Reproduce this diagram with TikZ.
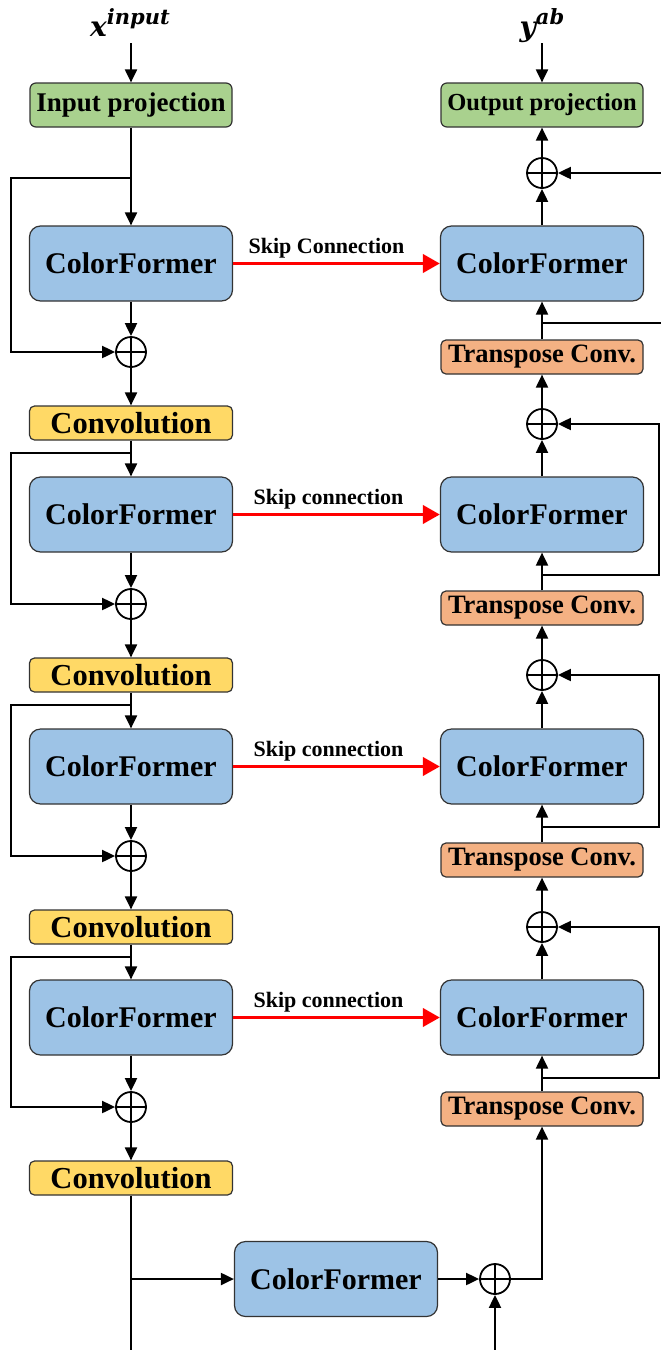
\documentclass[tikz,border=0pt]{standalone}
\usepackage{fontspec}
\setmainfont{Liberation Serif}
\newfontfamily\mathlikefont{DejaVu Serif}
\usetikzlibrary{arrows.meta,calc}
\definecolor{cgreen}{HTML}{A9D18E}
\definecolor{cblue}{HTML}{9DC3E6}
\definecolor{cyellow}{HTML}{FFD966}
\definecolor{corange}{HTML}{F4B183}
\definecolor{cborder}{HTML}{333333}
\definecolor{cred}{HTML}{FF0000}
\tikzset{
  basebox/.style={draw=cborder, line width=1.2pt, rounded corners=6pt, inner sep=0pt, font=\bfseries},
  projbox/.style={basebox, fill=cgreen, minimum width=202pt, minimum height=44pt},
  cfbox/.style={basebox, fill=cblue, rounded corners=11pt, minimum width=203pt, minimum height=75pt},
  convbox/.style={basebox, fill=cyellow, rounded corners=5pt, minimum width=203pt, minimum height=34pt},
  tcbox/.style={basebox, fill=corange, rounded corners=5pt, minimum width=202pt, minimum height=34pt},
  oplusnode/.style={circle, draw=black, line width=1.8pt, minimum size=30pt, inner sep=0pt,
    path picture={\draw[line width=1.8pt] (path picture bounding box.north) -- (path picture bounding box.south)
      (path picture bounding box.west) -- (path picture bounding box.east);}},
  arr/.style={line width=2pt, -{Triangle[length=13pt,width=12pt]}},
  plainline/.style={line width=2pt},
  skiparr/.style={draw=cred, line width=3.8pt, -{Triangle[length=17pt,width=18pt]}},
  skiplabel/.style={font=\bfseries\fontsize{22}{23}\selectfont, text=black, inner sep=2pt},
  mathlabel/.style={font=\mathlikefont\bfseries\itshape, inner sep=0pt, anchor=base},
  cftext/.style={font=\bfseries\fontsize{30}{31}\selectfont},
}
\begin{document}
\begin{tikzpicture}[x=1pt,y=-1pt]
\useasboundingbox (0,0) rectangle (661,1350);
\node[mathlabel] (xin) at (130,36) {\fontsize{28}{28}\selectfont x\raisebox{12pt}{\fontsize{21}{21}\selectfont input}};
\node[mathlabel] (yab) at (542,36) {\fontsize{28}{28}\selectfont y\raisebox{12pt}{\fontsize{21}{21}\selectfont ab}};
\coordinate (xa) at (131,43);
\coordinate (ya) at (542,43);
\node[projbox, font=\bfseries\fontsize{27}{28}\selectfont] (inproj) at (131,105) {Input projection};
\node[projbox, font=\bfseries\fontsize{24.5}{25}\selectfont] (outproj) at (542,105) {Output projection};
\draw[arr] (xa) -- (inproj.north);
\draw[arr] (ya) -- (outproj.north);
\foreach \k/\cy/\oy/\vy in {1/263.5/352/423, 2/514.5/604/675, 3/766.5/856/927, 4/1017.5/1107/1178}{
  \node[cfbox, cftext] (cfL\k) at (131,\cy) {ColorFormer};
  \node[oplusnode] (opL\k) at (131,\oy) {};
  \node[convbox, font=\bfseries\fontsize{30.5}{31}\selectfont] (convL\k) at (131,\vy) {Convolution};
}
\foreach \k/\cy/\oy/\ty in {1/263.5/173/357, 2/514.5/424/608, 3/766.5/675/860, 4/1017.5/927/1109}{
  \node[cfbox, cftext] (cfR\k) at (542,\cy) {ColorFormer};
  \node[oplusnode] (opR\k) at (542,\oy) {};
  \node[tcbox, font=\bfseries\fontsize{26.5}{27}\selectfont] (tcR\k) at (542,\ty) {Transpose Conv.};
}
\node[cfbox, cftext] (cfB) at (336,1279) {ColorFormer};
\node[oplusnode] (opB) at (495,1279) {};
\coordinate (bL1) at (131,178);
\coordinate (bL2) at (131,453);
\coordinate (bL3) at (131,705);
\coordinate (bL4) at (131,957);
\draw[arr] (inproj.south) -- (cfL1.north);
\draw[arr] (convL1.south) -- (cfL2.north);
\draw[arr] (convL2.south) -- (cfL3.north);
\draw[arr] (convL3.south) -- (cfL4.north);
\foreach \k in {1,2,3,4}{
  \draw[arr] (cfL\k.south) -- (opL\k.north);
  \draw[arr] (opL\k.south) -- (convL\k.north);
  \draw[arr] (bL\k) -- ($(bL\k)+(-120,0)$) |- (opL\k.west);
}
\draw[skiparr] (cfL1.east) -- node[skiplabel, above, xshift=-10pt, yshift=1pt] {Skip Connection} (cfR1.west);
\draw[skiparr] (cfL2.east) -- node[skiplabel, above, xshift=-8pt, yshift=1pt] {Skip connection} (cfR2.west);
\draw[skiparr] (cfL3.east) -- node[skiplabel, above, xshift=-8pt, yshift=1pt] {Skip connection} (cfR3.west);
\draw[skiparr] (cfL4.east) -- node[skiplabel, above, xshift=-8pt, yshift=1pt] {Skip connection} (cfR4.west);
\draw[arr] (opR1.north) -- (outproj.south);
\draw[arr] (opR2.north) -- (tcR1.south);
\draw[arr] (opR3.north) -- (tcR2.south);
\draw[arr] (opR4.north) -- (tcR3.south);
\coordinate (bR1) at (542,323);
\coordinate (bR2) at (542,575);
\coordinate (bR3) at (542,827);
\coordinate (bR4) at (542,1078);
\foreach \k in {1,2,3,4}{
  \draw[arr] (tcR\k.north) -- (cfR\k.south);
  \draw[arr] (cfR\k.north) -- (opR\k.south);
}
\draw[arr] (bR1) -- ($(bR1)+(122,0)$) |- (opR1.east);
\foreach \k in {2,3,4}{
  \draw[arr] (bR\k) -- ($(bR\k)+(117,0)$) |- (opR\k.east);
}
\coordinate (lbot) at (131,1352);
\coordinate (bB) at (131,1279);
\coordinate (rbot) at (495,1352);
\draw[plainline] (convL4.south) -- (lbot);
\draw[arr] (bB) -- (cfB.west);
\draw[arr] (cfB.east) -- (opB.west);
\draw[arr] (rbot) -- (opB.south);
\draw[arr] (opB.east) -| (tcR4.south);
\end{tikzpicture}
\end{document}
